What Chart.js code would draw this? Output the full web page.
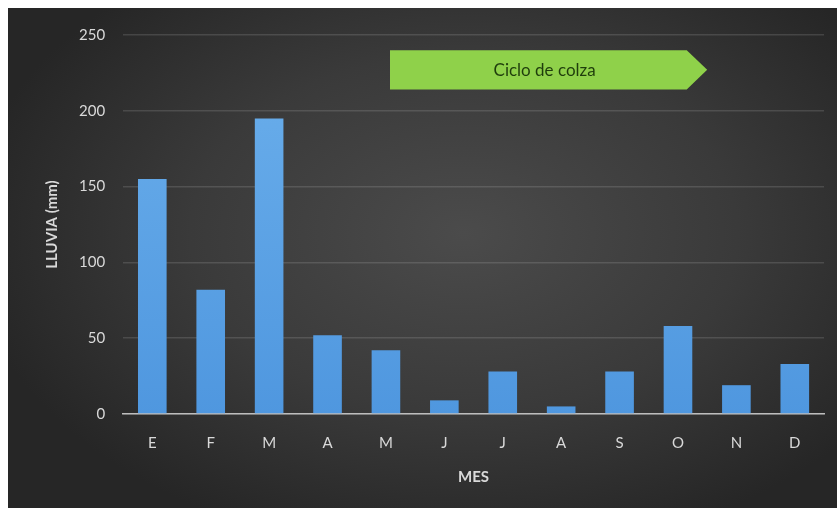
<!DOCTYPE html>
<html>
<head>
<meta charset="utf-8">
<script src="https://cdn.jsdelivr.net/npm/chart.js@4"></script>
<style>
  html, body { margin: 0; padding: 0; background: #ffffff; }
  #marco {
    position: absolute; left: 8px; top: 8px; width: 829px; height: 500px;
    background: radial-gradient(ellipse 60% 65% at 55% 45%, #4b4b4b 0%, #3a3a3a 55%, #262626 100%);
  }
</style>
</head>
<body>
<div id="marco"><canvas id="grafico" width="829" height="500"></canvas></div>
<script>
// Datos del gráfico
const meses = ['E', 'F', 'M', 'A', 'M', 'J', 'J', 'A', 'S', 'O', 'N', 'D'];
const lluvia = [155, 82, 195, 52, 42, 9, 28, 5, 28, 58, 19, 33];
const ticksY = [0, 50, 100, 150, 200, 250];

// Flecha "Ciclo de colza": posición en índices de mes y en mm
const cicloTexto = 'Ciclo de colza';
const cicloX = [4.07, 9.15, 9.5];   // inicio, fin del cuerpo, punta
const cicloY = [240, 214];          // arriba, abajo

const fuente = 'Lato, "Open Sans", sans-serif';

// Plugin para dibujar la flecha verde
const flechaCiclo = {
  id: 'flechaCiclo',
  afterDatasetsDraw(chart) {
    const { ctx, scales } = chart;
    const x0 = scales.x.getPixelForValue(cicloX[0]);
    const x1 = scales.x.getPixelForValue(cicloX[1]);
    const x2 = scales.x.getPixelForValue(cicloX[2]);
    const y0 = scales.y.getPixelForValue(cicloY[0]);
    const y1 = scales.y.getPixelForValue(cicloY[1]);
    ctx.save();
    ctx.beginPath();
    ctx.moveTo(x0, y0);
    ctx.lineTo(x1, y0);
    ctx.lineTo(x2, (y0 + y1) / 2);
    ctx.lineTo(x1, y1);
    ctx.lineTo(x0, y1);
    ctx.closePath();
    ctx.fillStyle = '#8fd14a';
    ctx.fill();
    ctx.fillStyle = '#1f3d0c';
    ctx.font = '17px ' + fuente;
    ctx.textAlign = 'center';
    ctx.textBaseline = 'middle';
    ctx.fillText(cicloTexto, (x0 + x2) / 2 - 4, (y0 + y1) / 2 + 1);
    ctx.restore();
  }
};

const ctx = document.getElementById('grafico').getContext('2d');
new Chart(ctx, {
  type: 'bar',
  data: {
    labels: meses,
    datasets: [{
      label: 'Lluvia',
      data: lluvia,
      backgroundColor(c) {
        const area = c.chart.chartArea;
        if (!area) return '#5aa0e4';
        const g = c.chart.ctx.createLinearGradient(0, area.top, 0, area.bottom);
        g.addColorStop(0, '#6cb0ec');
        g.addColorStop(1, '#4f97df');
        return g;
      },
      borderWidth: 0,
      categoryPercentage: 0.49,
      barPercentage: 1
    }]
  },
  options: {
    responsive: false,
    animation: false,
    layout: { padding: { top: 24, right: 13, bottom: 18, left: 31 } },
    plugins: {
      legend: { display: false },
      tooltip: { enabled: false }
    },
    scales: {
      x: {
        grid: { display: false },
        border: { display: true, color: '#bdbdbd', width: 1.5 },
        ticks: { color: '#d9d9d9', font: { family: fuente, size: 15 }, padding: 12 },
        title: {
          display: true, text: 'MES', color: '#d9d9d9',
          font: { family: fuente, size: 15, weight: 'bold' }, padding: { top: 4 }
        }
      },
      y: {
        min: 0, max: 250,
        afterBuildTicks(axis) { axis.ticks = ticksY.map(v => ({ value: v })); },
        grid: { color: 'rgba(255,255,255,0.13)', lineWidth: 1.5, drawTicks: false },
        border: { display: false },
        ticks: { color: '#d9d9d9', font: { family: fuente, size: 15 }, padding: 18 },
        title: {
          display: true, text: 'LLUVIA (mm)', color: '#d9d9d9',
          font: { family: fuente, size: 15, weight: 'bold' }, padding: { bottom: 0 }
        }
      }
    }
  },
  plugins: [flechaCiclo]
});
</script>
</body>
</html>
